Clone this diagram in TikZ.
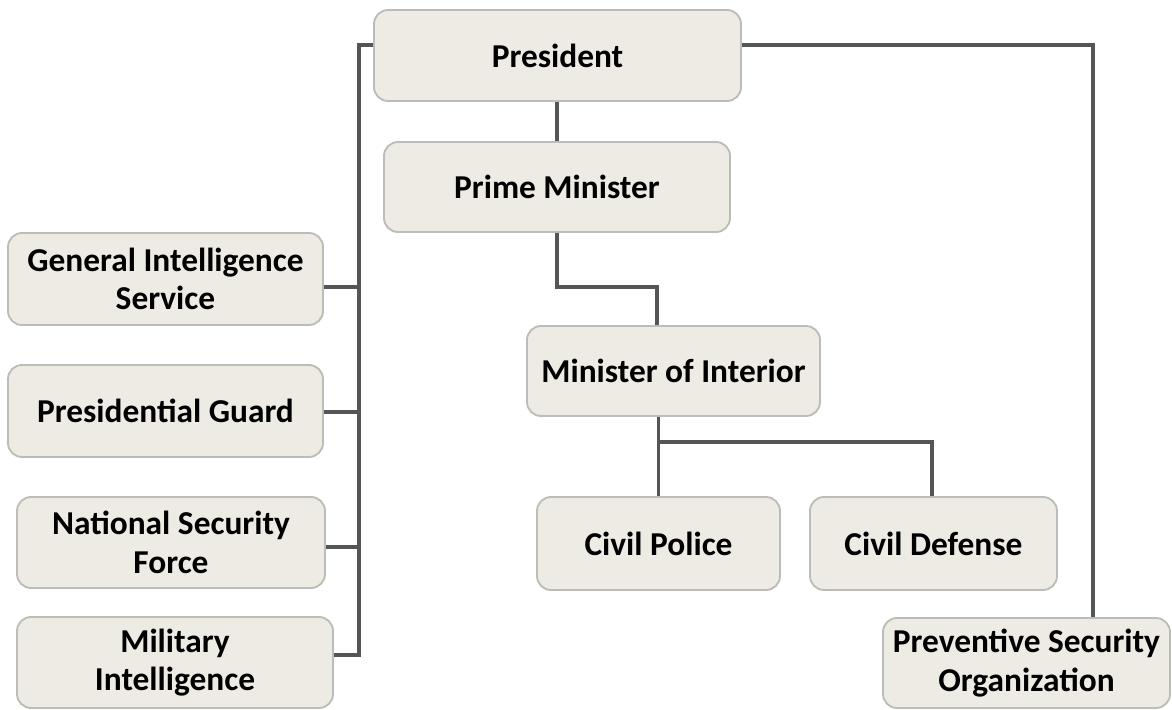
\documentclass[tikz,border=0pt]{standalone}
\usepackage{fontspec}
\setmainfont{Carlito}
\usepackage{tikz}
\usetikzlibrary{positioning,calc}
\definecolor{boxfill}{HTML}{EDEBE3}
\definecolor{boxline}{HTML}{BDBDB8}
\definecolor{wirec}{HTML}{555555}
\tikzset{office/.style={draw=boxline,fill=boxfill,line width=1.6pt,rounded corners=0.42cm,
    align=center,inner sep=0pt,minimum height=2.73cm,
    font=\bfseries\fontsize{28.5}{33}\selectfont},
  wire/.style={draw=wirec,line width=2.6pt}}

\begin{document}
\begin{tikzpicture}[x=0.03cm,y=-0.03cm]
\useasboundingbox (0,0) rectangle (1172,710);
% top of the chain
\node[office,minimum width=11.01cm] (pres) at (557.5,55.5) {President};
\node[office,minimum width=10.38cm,minimum height=2.70cm] (pm) at (557,187) {Prime Minister};
\node[office,minimum width=8.79cm,minimum height=2.70cm] (moi) at (673.5,371) {Minister of Interior};
\node[office,minimum width=7.29cm,minimum height=2.79cm] (cp) at (658.5,543.5) {Civil Police};
\node[office,minimum width=7.41cm,minimum height=2.79cm] (cd) at (933.5,543.5) {Civil Defense};
% services under the president
\node[office,minimum width=9.45cm,minimum height=2.76cm] (gis) at (165.5,279) {General Intelligence\\Service};
\node[office,minimum width=9.45cm,minimum height=2.76cm] (pg) at (165.5,411) {Presidential Guard};
\node[office,minimum width=9.24cm] (nsf) at (171,542.5) {National Security\\Force};
\node[office,minimum width=9.48cm] (mi) at (175,662.5) {Military\\Intelligence};
\node[office,minimum width=8.61cm,minimum height=2.70cm] (pso) at (1026.5,663) {Preventive Security\\Organization};
% connectors
\coordinate (bustop) at (359,45);
\coordinate (busbot) at (359,655);
\draw[wire] (pres.west |- bustop) -- (bustop) -- (busbot) -- (mi.east |- busbot);
\draw[wire] (gis.east |- 0,287) -- (bustop |- 0,287);
\draw[wire] (pg.east |- 0,412) -- (bustop |- 0,412);
\draw[wire] (nsf.east |- 0,547) -- (bustop |- 0,547);
\draw[wire] (pres.east |- bustop) -| (pso.north -| 1093,0);
\draw[wire] (pm.north |- pres.south) -- (pm.north);
\draw[wire] (pm.south) -- (pm.south |- 0,287) -| (moi.north -| 657,0);
\draw[wire] (moi.south -| cp.north) -- (cp.north);
\draw[wire] (cp.north |- 0,442) -| (cd.north -| 932,0);
\end{tikzpicture}
\end{document}
